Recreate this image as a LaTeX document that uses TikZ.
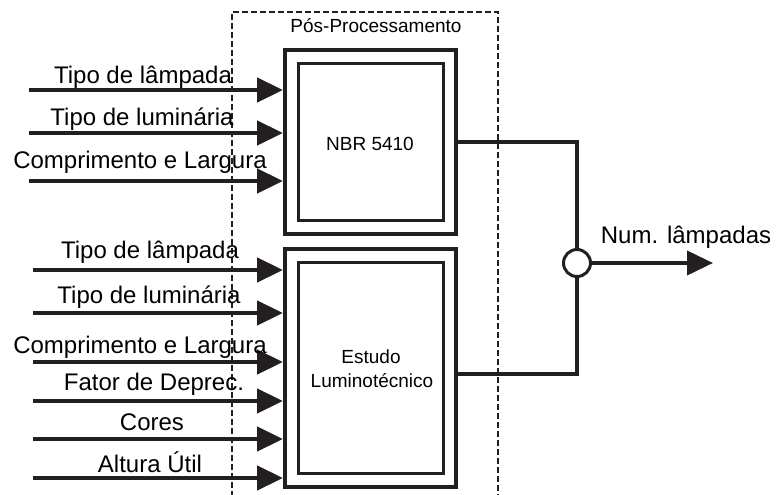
\documentclass[tikz,border=0pt]{standalone}
\usepackage{fontspec}
\setmainfont{Liberation Sans}
\usetikzlibrary{arrows.meta}
\definecolor{inkBlack}{RGB}{35,31,32}

\begin{document}
\begin{tikzpicture}[x=1pt, y=-1pt,
  inarrow/.style={draw=inkBlack, line width=4.5pt, -{Triangle[length=26pt,width=24pt]}},
  outbox/.style={draw=inkBlack, line width=4pt, minimum width=171pt},
  inbox/.style={draw=inkBlack, line width=3pt, minimum width=145pt},
  lbl/.style={anchor=base, inner sep=0pt, font=\fontsize{24}{26}\selectfont},
  boxtxt/.style={anchor=base, inner sep=0pt, font=\fontsize{19}{21}\selectfont},
  wire/.style={draw=inkBlack, line width=3.6pt}]

\useasboundingbox (0,0) rectangle (776,495);

%
\draw[inkBlack, line width=1.8pt, dash pattern=on 6pt off 3pt] (232,497) |- (498,12) -- (498,497);
\node[boxtxt] (title) at (376,33) {Pós-Processamento};

%
\node[outbox, minimum height=184pt] (nbrout) at (370.5,142) {};
\node[inbox, minimum height=157pt] (nbr) at (371,142) {};
\node[boxtxt] (nbrtxt) at (370,150) {NBR 5410};

%
\node[outbox, minimum height=238pt] (lumout) at (370.5,368) {};
\node[inbox, minimum height=211pt] (lum) at (371,368) {};
\node[boxtxt] (lumtxtA) at (371,363) {Estudo};
\node[boxtxt] (lumtxtB) at (372,387) {Luminotécnico};

%
\coordinate (inA) at (29,90);
\coordinate (inB) at (29,133);
\coordinate (inC) at (29,181);
\draw[inarrow] (inA) -- (inA -| nbrout.west);
\draw[inarrow] (inB) -- (inB -| nbrout.west);
\draw[inarrow] (inC) -- (inC -| nbrout.west);
\node[lbl] (lblA) at (143,83) {Tipo de lâmpada};
\node[lbl] (lblB) at (142,125) {Tipo de luminária};
\node[lbl] (lblC) at (140,168) {Comprimento e Largura};

%
\coordinate (inD) at (33,270);
\coordinate (inE) at (33,313);
\coordinate (inF) at (33,362);
\coordinate (inG) at (33,401);
\coordinate (inH) at (33,439);
\coordinate (inI) at (33,478);
\draw[inarrow] (inD) -- (inD -| lumout.west);
\draw[inarrow] (inE) -- (inE -| lumout.west);
\draw[inarrow] (inF) -- (inF -| lumout.west);
\draw[inarrow] (inG) -- (inG -| lumout.west);
\draw[inarrow] (inH) -- (inH -| lumout.west);
\draw[inarrow] (inI) -- (inI -| lumout.west);
\node[lbl] (lblD) at (150,258) {Tipo de lâmpada};
\node[lbl] (lblE) at (149,303) {Tipo de luminária};
\node[lbl] (lblF) at (140,353) {Comprimento e Largura};
\node[lbl] (lblG) at (154,390) {Fator de Deprec.};
\node[lbl] (lblH) at (152,430) {Cores};
\node[lbl] (lblI) at (150,472) {Altura Útil};

%
\node[circle, draw=inkBlack, line width=3pt, minimum size=27pt, inner sep=0pt] (sum) at (577,263) {};
\draw[wire] (nbrout.east) -| (sum.north);
\draw[wire] ([yshift=-6pt]lumout.east) -| (sum.south);

%
\coordinate (outEnd) at (713,263);
\draw[inarrow, line width=4pt] (sum.east) -- (outEnd);
\node[lbl] (outlbl) at (686,243) {Num. lâmpadas};

\end{tikzpicture}
\end{document}
